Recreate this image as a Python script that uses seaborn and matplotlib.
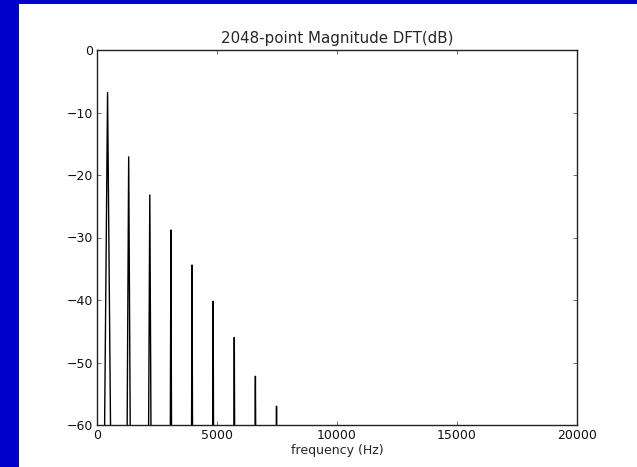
import matplotlib
matplotlib.use("Agg")
import matplotlib.pyplot as plt
from matplotlib.patches import Rectangle
import seaborn as sns
import pandas as pd

# Data
peak_freq_hz = [440, 1320, 2200, 3080, 3960, 4840, 5720, 6600, 7480]
peak_db = [-6.8, -17.1, -23.2, -28.8, -34.4, -40.2, -46.0, -52.2, -57.0]
lobe_halfwidth_hz = [125, 65, 50, 25, 20, 15, 15, 12, 10]
floor_db = -61.0
x_ticks = [0, 5000, 10000, 15000, 20000]
y_ticks = [0, -10, -20, -30, -40, -50, -60]
title_text = "2048-point Magnitude DFT(dB)"
x_label = "frequency (Hz)"

# Build spectrum outline (each peak: base -> top -> base)
xs, ys = [0.0], [floor_db]
for f, p, w in zip(peak_freq_hz, peak_db, lobe_halfwidth_hz):
    xs += [f - w, f, f + w]
    ys += [floor_db, p, floor_db]
xs.append(20000.0)
ys.append(floor_db)
df = pd.DataFrame({"freq": xs, "db": ys, "order": range(len(xs))})

sns.set_style("ticks")
plt.rcParams.update({
    "font.family": ["DejaVu Sans"],
    "xtick.direction": "in",
    "ytick.direction": "in",
    "xtick.top": True,
    "ytick.right": True,
    "xtick.major.size": 3,
    "ytick.major.size": 3,
    "xtick.major.width": 0.6,
    "ytick.major.width": 0.6,
    "axes.edgecolor": "#222222",
    "axes.linewidth": 1.0,
    "xtick.color": "#555555",
    "ytick.color": "#555555",
    "xtick.labelcolor": "#111111",
    "ytick.labelcolor": "#111111",
})

fig = plt.figure(figsize=(6.37, 4.67), dpi=100, facecolor="white")
# slide-style blue border on the left and top
fig.patches.append(Rectangle((0, 0), 19 / 637, 1, transform=fig.transFigure,
                             facecolor="#0000CC", edgecolor="none", zorder=0))
fig.patches.append(Rectangle((0, 1 - 4 / 467), 1, 4 / 467, transform=fig.transFigure,
                             facecolor="#0000CC", edgecolor="none", zorder=0))

ax = fig.add_axes([97 / 637, 1 - 425 / 467, 480 / 637, 375 / 467])
sns.lineplot(data=df, x="freq", y="db", sort=False, estimator=None,
             color="black", linewidth=1.0, ax=ax)
ax.set_xlim(0, 20000)
ax.set_ylim(-60, 0)
ax.set_xticks(x_ticks)
ax.set_xticklabels([str(t) for t in x_ticks])
ax.set_yticks(y_ticks)
ax.tick_params(labelsize=9, pad=3)
ax.set_xlabel(x_label, fontsize=9, labelpad=1)
ax.set_ylabel("")
ax.set_title(title_text, fontsize=10.8, pad=5)

fig.savefig("out.png", dpi=100, facecolor="white")
